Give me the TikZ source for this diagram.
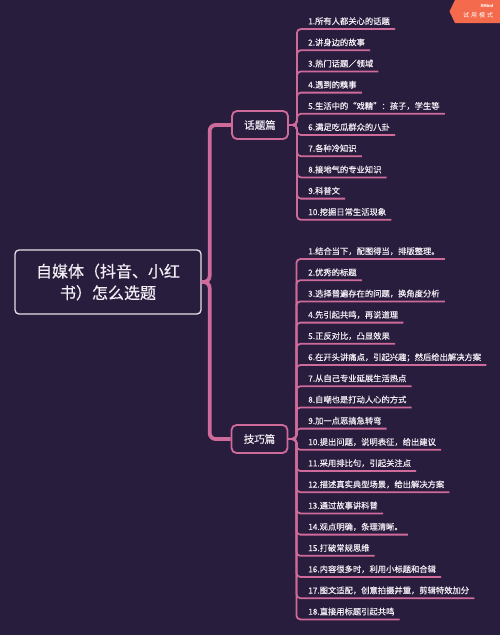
\documentclass[tikz,border=0pt]{standalone}
\usepackage{fontspec}
\setmainfont{Noto Sans CJK SC}
\newfontfamily\medfont{Noto Sans CJK SC}[FakeBold=0.4]
\definecolor{bg}{HTML}{291D3D}
\definecolor{pinkln}{HTML}{CF6B9B}
\definecolor{fg}{HTML}{F2EEF5}
\definecolor{rootln}{HTML}{E6E0EA}
\definecolor{wm}{HTML}{F36B4C}
\begin{document}
\begin{tikzpicture}[x=1pt,y=-1pt,
  rootbox/.style={draw=rootln, line width=1.3pt, rounded corners=4pt, fill=bg, minimum width=186pt, minimum height=64pt, text=fg, font=\medfont\fontsize{16}{21.5}\selectfont, align=center, inner sep=0pt},
  topicbox/.style={draw=pinkln, line width=1.8pt, rounded corners=5pt, fill=bg, minimum width=56pt, minimum height=28pt, inner sep=0pt, text=fg, font=\medfont\fontsize{10.5}{12}\selectfont},
  itemtxt/.style={anchor=south west, inner xsep=5pt, inner ysep=3pt, text height=7pt, text depth=1.5pt, text=fg, font=\medfont\fontsize{8.3}{10}\selectfont},
  trunk/.style={draw=pinkln, line width=3.8pt, rounded corners=6pt},
  subln/.style={draw=pinkln, line width=1.8pt, rounded corners=4pt},
  wmtxt/.style={text=white, inner sep=0pt}
]
\fill[bg] (0,0) rectangle (500,635);
\useasboundingbox (0,0) rectangle (500,635);

% watermark
\fill[wm] (455,0) -- (500,0) -- (500,23) -- (455,23) -- (449.5,11.5) -- cycle;
\node[wmtxt, font=\fontsize{4}{4}\selectfont\bfseries] (wmA) at (487,6) {XMind};
\node[wmtxt, font=\fontsize{6}{6}\selectfont] (wmB) at (478,15.5) {试\hspace{2pt}用\hspace{2pt}模\hspace{2pt}式};

% root and topics
\node[rootbox] (root) at (108,282) {自媒体（抖音、小红\\书）怎么选题};
\node[topicbox] (ta) at (260,125) {话题篇};
\node[topicbox] (tb) at (259.5,439) {技巧篇};

\draw[trunk] (root.east) -- ++(8,0) |- (ta.west);
\draw[trunk] (root.east) -- ++(8,0) |- (tb.west);

% topic A items
\node[itemtxt] (a1) at (303,29) {1.所有人都关心的话题};
\node[itemtxt] (a2) at (303,50.2) {2.讲身边的故事};
\node[itemtxt] (a3) at (303,71.4) {3.热门话题／领域};
\node[itemtxt] (a4) at (303,92.6) {4.遇到的糗事};
\node[itemtxt] (a5) at (303,113.8) {5.生活中的“戏精”：孩子，学生等};
\node[itemtxt] (a6) at (303,135) {6.满足吃瓜群众的八卦};
\node[itemtxt] (a7) at (303,156.2) {7.各种冷知识};
\node[itemtxt] (a8) at (303,177.4) {8.接地气的专业知识};
\node[itemtxt] (a9) at (303,198.6) {9.科普文};
\node[itemtxt] (a10) at (303,219.8) {10.挖掘日常生活现象};
\foreach \n in {1,...,10}{
  \draw[subln] (ta.east) -- ++(8,0) |- (a\n.south east);
}

% topic B items
\node[itemtxt] (b1) at (303,259) {1.结合当下，配图得当，排版整理。};
\node[itemtxt] (b2) at (303,280.2) {2.优秀的标题};
\node[itemtxt] (b3) at (303,301.4) {3.选择普遍存在的问题，换角度分析};
\node[itemtxt] (b4) at (303,322.6) {4.先引起共鸣，再说道理};
\node[itemtxt] (b5) at (303,343.8) {5.正反对比，凸显效果};
\node[itemtxt] (b6) at (303,365) {6.在开头讲痛点，引起兴趣；然后给出解决方案};
\node[itemtxt] (b7) at (303,386.2) {7.从自己专业延展生活热点};
\node[itemtxt] (b8) at (303,407.4) {8.自嘲也是打动人心的方式};
\node[itemtxt] (b9) at (303,428.6) {9.加一点恶搞急转弯};
\node[itemtxt] (b10) at (303,449.8) {10.提出问题，说明表征，给出建议};
\node[itemtxt] (b11) at (303,471) {11.采用排比句，引起关注点};
\node[itemtxt] (b12) at (303,492.2) {12.描述真实典型场景，给出解决方案};
\node[itemtxt] (b13) at (303,513.4) {13.通过故事讲科普};
\node[itemtxt] (b14) at (303,534.6) {14.观点明确，条理清晰。};
\node[itemtxt] (b15) at (303,555.8) {15.打破常规思维};
\node[itemtxt] (b16) at (303,577) {16.内容很多时，利用小标题和合辑};
\node[itemtxt] (b17) at (303,598.2) {17.图文适配，创意拍摄并重，剪辑特效加分};
\node[itemtxt] (b18) at (303,619.4) {18.直接用标题引起共鸣};
\foreach \n in {1,...,18}{
  \draw[subln] (tb.east) -- ++(8,0) |- (b\n.south east);
}
\end{tikzpicture}
\end{document}
